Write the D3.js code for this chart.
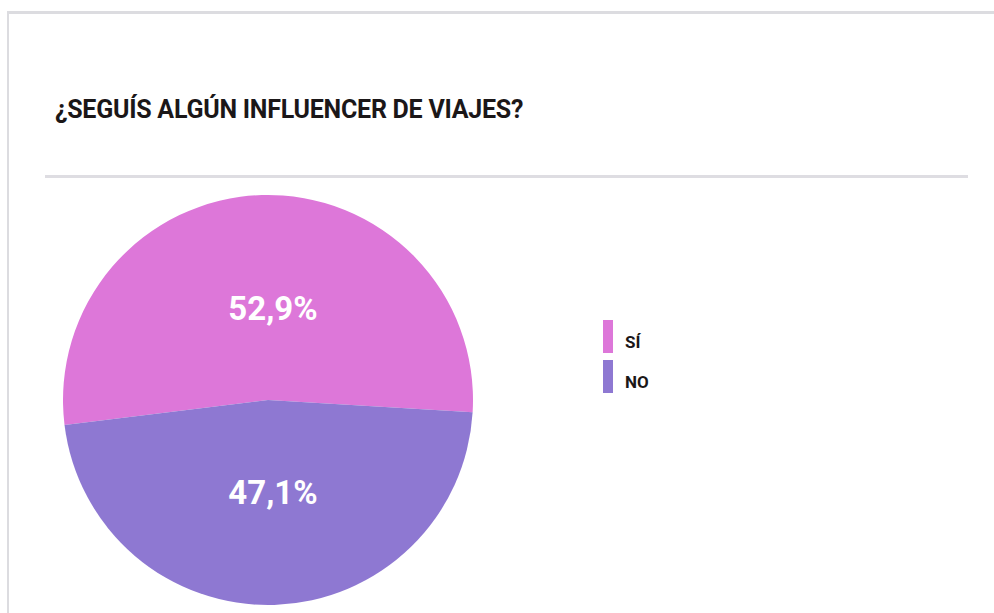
<!DOCTYPE html>
<html>
<head>
<meta charset="utf-8">
<script src="https://cdn.jsdelivr.net/npm/d3@7"></script>
<style>
  body { margin: 0; background: #fff; }
  svg { display: block; font-family: Roboto, "DejaVu Sans", sans-serif; }
</style>
</head>
<body>
<svg id="chart" width="994" height="613"></svg>
<script>
// data
var title = "¿SEGUÍS ALGÚN INFLUENCER DE VIAJES?";
var categories = ["SÍ", "NO"];
var values = [52.9, 47.1];
var colors = ["#dd77d9", "#8e78d2"];

var svg = d3.select("#chart");

// card frame (top + left edge)
svg.append("rect").attr("x", 7).attr("y", 11).attr("width", 987).attr("height", 3).attr("fill", "#dcdce0");
svg.append("rect").attr("x", 7).attr("y", 11).attr("width", 2).attr("height", 602).attr("fill", "#dcdce0");

svg.append("text")
    .attr("x", 55)
    .attr("y", 118)
    .attr("font-size", 25)
    .attr("font-weight", 700)
    .attr("letter-spacing", "-0.25px")
    .attr("fill", "#1b1718")
    .text(title);

svg.append("rect").attr("x", 45).attr("y", 175).attr("width", 923).attr("height", 3).attr("fill", "#dedde2");

var radius = 205;
var g = svg.append("g").attr("transform", "translate(268,400)");

var color = d3.scaleOrdinal().domain(categories).range(colors);

var pie = d3.pie()
    .sort(null)
    .startAngle(-97 * Math.PI / 180)
    .endAngle(263 * Math.PI / 180)
    .value(function(d, i) { return values[i]; });

var arc = d3.arc().innerRadius(0).outerRadius(radius);
var labelArc = d3.arc().innerRadius(92).outerRadius(92);

var arcs = pie(categories);

g.selectAll(".slice")
    .data(arcs)
  .enter().append("path")
    .attr("class", "slice")
    .attr("d", arc)
    .attr("fill", function(d) { return color(d.data); });

// labels sit on the vertical through the centre, height from the centroid
g.selectAll(".label")
    .data(arcs)
  .enter().append("text")
    .attr("class", "label")
    .attr("transform", function(d) {
      var c = labelArc.centroid(d);
      return "translate(5," + c[1] + ")";
    })
    .attr("text-anchor", "middle")
    .attr("dy", "0.36em")
    .attr("font-size", 33)
    .attr("font-weight", 700)
    .attr("fill", "#fff")
    .text(function(d, i) { return values[i].toFixed(1).replace(".", ",") + "%"; });

// legend
var legend = svg.append("g").attr("transform", "translate(603,320)");
var item = legend.selectAll(".item")
    .data(categories)
  .enter().append("g")
    .attr("class", "item")
    .attr("transform", function(d, i) { return "translate(0," + (i * 40) + ")"; });

item.append("rect")
    .attr("width", 10)
    .attr("height", 33)
    .attr("fill", function(d) { return color(d); });

item.append("text")
    .attr("x", 22)
    .attr("y", 28)
    .attr("font-size", 17)
    .attr("font-weight", 700)
    .attr("fill", "#1b1718")
    .text(function(d) { return d; });
</script>
</body>
</html>
